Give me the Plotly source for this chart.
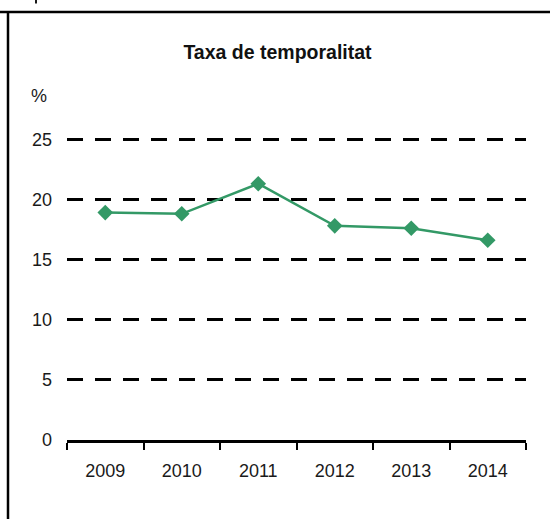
import plotly.graph_objects as go

years = ["2009", "2010", "2011", "2012", "2013", "2014"]
taxa = [18.9, 18.8, 21.3, 17.8, 17.6, 16.6]
y_ticks = [0, 5, 10, 15, 20, 25]
title_text = "Taxa de temporalitat"
unit_text = "%"

GREEN = "#339966"
FONT = "Liberation Sans, Arial, sans-serif"

fig = go.Figure()
fig.add_trace(go.Scatter(
    x=years, y=taxa, mode="lines+markers",
    line=dict(color=GREEN, width=2.5),
    marker=dict(symbol="diamond", size=12, color=GREEN),
    showlegend=False, hoverinfo="skip",
))

L, R, T, B = 67, 24, 138, 79
W, H = 550, 519
PH = H - T - B
PW = W - L - R

def px(xp):
    return (xp - L) / PW

def py(yp):
    return (H - B - yp) / PH

fig.update_layout(
    width=W, height=H,
    margin=dict(l=L, r=R, t=T, b=B),
    paper_bgcolor="white", plot_bgcolor="white",
    font=dict(family=FONT, size=18, color="#1a1a1a"),
    title=dict(text="<b>" + title_text + "</b>", xref="container", yref="container",
               x=277.5 / W, y=1 - 52.5 / H, xanchor="center", yanchor="middle",
               font=dict(family=FONT, size=19.5, color="#111")),
    xaxis=dict(type="category", showgrid=False, zeroline=False, showline=True,
               linecolor="black", linewidth=2.5, ticks="outside", tickson="boundaries",
               ticklen=7, tickwidth=2, tickcolor="black", range=[-0.5, 5.5],
               ticklabelstandoff=13),
    yaxis=dict(range=[0, 25.1], tickvals=y_ticks, showgrid=True, gridcolor="black",
               gridwidth=3, griddash="16px,12px", zeroline=False, showline=False,
               ticks="", ticklabelstandoff=14),
)

fig.add_annotation(text=unit_text, xref="paper", yref="paper", x=px(39), y=py(96),
                   xanchor="center", yanchor="middle", showarrow=False,
                   font=dict(family=FONT, size=18, color="#1a1a1a"))

# frame lines and the small cut-off mark at the top edge
fig.add_shape(type="line", xref="paper", yref="paper", x0=px(-5), x1=px(560),
              y0=py(12), y1=py(12), line=dict(color="black", width=2.5))
fig.add_shape(type="line", xref="paper", yref="paper", x0=px(8), x1=px(8),
              y0=py(12), y1=py(530), line=dict(color="black", width=2.5))
fig.add_shape(type="line", xref="paper", yref="paper", x0=px(36), x1=px(36),
              y0=py(-1), y1=py(3.5), line=dict(color="#1a1a1a", width=2))

fig.write_html("out.html", config={"displayModeBar": False},
               post_script="document.body.style.margin='0';document.body.style.overflow='hidden';")
